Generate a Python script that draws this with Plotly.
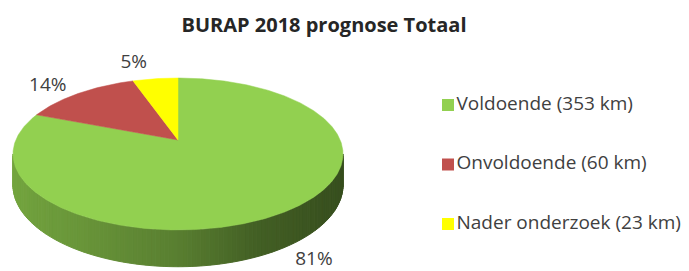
import numpy as np
import plotly.graph_objects as go

# ---- data ----
categories = ["Voldoende", "Onvoldoende", "Nader onderzoek"]
lengths_km = [353, 60, 23]
colors = ["#92D050", "#C0504D", "#FFFF00"]
title_text = "BURAP 2018 prognose Totaal"

# ---- style / geometry (page-pixel space) ----
PAGE_W, PAGE_H = 689, 271
OFF = 8                      # default body margin of the html page
W, H = PAGE_W - OFF, PAGE_H - OFF
CX, CY = 178, 140            # projected pie centre
A, B, K = 162.2, 73.4, 0.184  # perspective ellipse parameters
DEPTH = 30
FONT = "Open Sans"
TXT = "#404040"
label_nudge = [(-5, -18), (-10, 3), (-17, -3)]
legend_x, legend_y0, legend_dy = 448, 105, 59.5


def proj(theta_deg, r=1.0):
    t = np.radians(theta_deg)
    u = np.sin(t) * r
    v = -np.cos(t) * r
    w = 1 - K * v
    return CX + A * u / w, CY + B * v / w, w, u


def hex2rgb(h):
    h = h.lstrip("#")
    return tuple(int(h[i:i + 2], 16) for i in (0, 2, 4))


side_u = [-1.0, -0.5, 0.0, 0.4, 0.7, 1.0]
side_f = [0.80, 0.72, 0.61, 0.46, 0.41, 0.37]

total = sum(lengths_km)
fracs = [v / total for v in lengths_km]
starts = np.concatenate([[0], np.cumsum(fracs)[:-1]]) * 360
ends = np.cumsum(fracs) * 360

fig = go.Figure()

# ---- side wall (front) ----
t_lo = 180 - np.degrees(np.arccos(K))
t_hi = 180 + np.degrees(np.arccos(K))
edges = np.linspace(t_lo, t_hi, 121)
for a, b in zip(edges[:-1], edges[1:]):
    mid = 0.5 * (a + b)
    idx = int(np.searchsorted(ends, mid))
    idx = min(idx, len(colors) - 1)
    xa, ya, wa, _ = proj(a)
    xb, yb, wb, _ = proj(b)
    _, _, _, um = proj(mid)
    f = np.interp(um, side_u, side_f)
    r, g, bl = [int(c * f) for c in hex2rgb(colors[idx])]
    col = f"rgb({r},{g},{bl})"
    fig.add_trace(go.Scatter(
        x=[xa, xb, xb, xa, xa],
        y=[ya, yb, yb + DEPTH / wb, ya + DEPTH / wa, ya],
        mode="lines", fill="toself", fillcolor=col,
        line=dict(color=col, width=1), hoverinfo="skip", showlegend=False))

# ---- top face slices ----
for s, e, col in zip(starts, ends, colors):
    th = np.linspace(s, e, max(int((e - s) * 2), 4))
    xs, ys, _, _ = proj(th)
    fig.add_trace(go.Scatter(
        x=np.concatenate([[CX], xs, [CX]]),
        y=np.concatenate([[CY], ys, [CY]]),
        mode="lines", fill="toself", fillcolor=col,
        line=dict(color=col, width=0.5), hoverinfo="skip", showlegend=False))

# ---- percentage labels ----
lx, ly, lt = [], [], []
for i, (s, e, fr) in enumerate(zip(starts, ends, fracs)):
    m = 0.5 * (s + e)
    x, y, w, u = proj(m, 1.25)
    v = -np.cos(np.radians(m))
    if v > 0:
        y = y + DEPTH / w * 1.2
    lx.append(x + label_nudge[i][0])
    ly.append(y + label_nudge[i][1])
    lt.append(f"{round(fr * 100)}%")
fig.add_trace(go.Scatter(x=lx, y=ly, text=lt, mode="text",
                         textfont=dict(family=FONT, size=19, color=TXT),
                         hoverinfo="skip", showlegend=False, cliponaxis=False))

# ---- legend ----
fig.add_trace(go.Scatter(
    x=[legend_x] * len(categories),
    y=[legend_y0 + i * legend_dy for i in range(len(categories))],
    text=[f"{c} ({v} km)" for c, v in zip(categories, lengths_km)],
    mode="markers+text", textposition="middle right",
    marker=dict(symbol="square", size=12, color=colors, line=dict(width=0)),
    textfont=dict(family=FONT, size=19, color=TXT),
    hoverinfo="skip", showlegend=False, cliponaxis=False))

fig.update_layout(
    width=W, height=H,
    margin=dict(l=0, r=0, t=0, b=0),
    paper_bgcolor="white", plot_bgcolor="white",
    title=dict(text=f"<b>{title_text}</b>", x=(324 - OFF) / W, xanchor="center",
               y=1 - (25 - OFF) / H, yanchor="middle",
               font=dict(family=FONT, size=20, color="#262626")),
    xaxis=dict(range=[OFF, PAGE_W], visible=False, fixedrange=True),
    yaxis=dict(range=[PAGE_H, OFF], visible=False, fixedrange=True),
)

fig.write_html("out.html")
